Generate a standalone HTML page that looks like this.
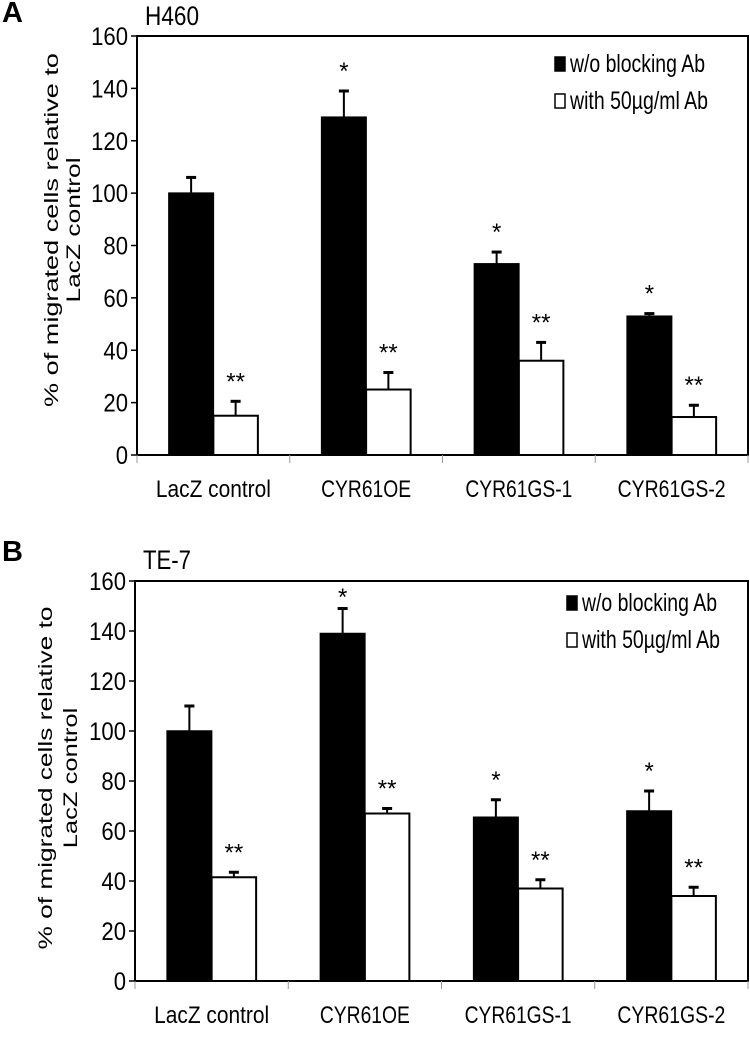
<!DOCTYPE html>
<html><head><meta charset="utf-8"><style>
html,body{margin:0;padding:0;background:#fff;}
svg{display:block;font-family:"Liberation Sans",Arial,sans-serif;}
</style></head><body>
<svg id="chart" width="750" height="1050" viewBox="0 0 750 1050"></svg>
<script>
const categories = ["LacZ control","CYR61OE","CYR61GS-1","CYR61GS-2"];
const categoryWidths = [115,90,107,108];
const yTicks = [0,20,40,60,80,100,120,140,160];
const seriesNames = ["w/o blocking Ab","with 50µg/ml Ab"];
const aBlack = [100,129,73,53];
const aBlackErr = [6,10,4.5,1];
const aWhite = [15,25,36,14.5];
const aWhiteErr = [5.5,6.5,7,4.5];
const aBlackStars = ["","*","*","*"];
const aWhiteStars = ["**","**","**","**"];
const bBlack = [100,139,65.5,68];
const bBlackErr = [10,10,7,8];
const bWhite = [41.5,67,37,34];
const bWhiteErr = [2,2,3.5,3.5];
const bBlackStars = ["","*","*","*"];
const bWhiteStars = ["**","**","**","**"];

const NS="http://www.w3.org/2000/svg";
const svg=document.getElementById('chart');
function mk(tag,attrs,parent){const e=document.createElementNS(NS,tag);for(const k in attrs)e.setAttribute(k,attrs[k]);(parent||svg).appendChild(e);return e;}
function txt(s,attrs,parent){const e=mk('text',attrs,parent);e.textContent=s;return e;}

function panel(cfg){
  const g=mk('g',{});
  
  
  const {x0,x1,yTop,yBot}=cfg;
  const ymax=160;
  const Y=v=>yBot-(v/ymax)*(yBot-yTop);
  const cw=(x1-x0)/categories.length;
  const X=i=>x0+cw*(i+0.5);
  const bw=44.5;
  const L=txt(cfg.letter,{x:2,y:cfg.letterY,'font-size':29,'font-weight':'bold'},g);
  
  
  const T=txt(cfg.title,{x:x0+8,y:cfg.titleY,'font-size':27,textLength:cfg.titleLen,lengthAdjust:'spacingAndGlyphs'},g);
  
  
  const fr=mk('rect',{x:x0,y:yTop,width:x1-x0,height:yBot-yTop,fill:'none',stroke:'#000','stroke-width':2},g);
  
  
  yTicks.forEach(v=>{
    const tl=mk('line',{x1:x0-6,x2:x0,y1:Y(v),y2:Y(v),stroke:'#000','stroke-width':1.5},g);
    
    
    const s=String(v);
    const t=txt(s,{x:x0-9,y:Y(v)+9,'font-size':25,'text-anchor':'end',textLength:s.length*12.3,lengthAdjust:'spacingAndGlyphs'},g);
    
    
  });
  for(let i=0;i<=categories.length;i++){
    const cx=x0+cw*i;
    const l=mk('line',{x1:cx,x2:cx,y1:yBot,y2:yBot+8,stroke:'#999','stroke-width':1},g);
    
    
  }
  const yt=mk('text',{transform:`translate(${cfg.ytX},${cfg.ytY}) rotate(-90)`,'font-size':19,'text-anchor':'middle'},g);
  
  
  const t1=mk('tspan',{x:0,y:0,textLength:cfg.ytLen,lengthAdjust:'spacingAndGlyphs'},yt);t1.textContent='% of migrated cells relative to';
  const t2=mk('tspan',{x:0,y:cfg.ytDy,textLength:cfg.ytLen*0.41,lengthAdjust:'spacingAndGlyphs'},yt);t2.textContent='LacZ control';
  function err(cx,top,e){
    const yy=Y(top+e);
    mk('line',{x1:cx,x2:cx,y1:Y(top),y2:yy,stroke:'#000','stroke-width':2},g);
    mk('line',{x1:cx-5,x2:cx+5,y1:yy,y2:yy,stroke:'#000','stroke-width':3},g);
    return yy;
  }
  categories.forEach((c,i)=>{
    const cx=X(i);
    const b=mk('rect',{x:cx-bw,y:Y(cfg.black[i]),width:bw,height:yBot-Y(cfg.black[i]),fill:'#000',stroke:'#000','stroke-width':1.5},g);
    
    
    const w=mk('rect',{x:cx,y:Y(cfg.white[i]),width:bw,height:yBot-Y(cfg.white[i]),fill:'#fff',stroke:'#000','stroke-width':2},g);
    
    
    const ey1=err(cx-bw/2,cfg.black[i],cfg.blackErr[i]);
    const ey2=err(cx+bw/2,cfg.white[i],cfg.whiteErr[i]);
    if(cfg.blackStars[i]){const s=txt(cfg.blackStars[i],{x:cx-bw/2,y:Math.max(ey1-12,yTop+24),'font-size':24,'text-anchor':'middle'},g);
      }
    if(cfg.whiteStars[i]){const s=txt(cfg.whiteStars[i],{x:cx+bw/2,y:ey2-12,'font-size':24,'text-anchor':'middle'},g);
      }
    const lab=txt(c,{x:cx,y:yBot+42,'font-size':24,'text-anchor':'middle',textLength:categoryWidths[i],lengthAdjust:'spacingAndGlyphs'},g);
    
    
  });
  const lg=mk('g',{},g);
  
  
  const lx=cfg.legX, ly=cfg.legY;
  seriesNames.forEach((n,k)=>{
    const yy=ly+k*37;
    const sq=mk('rect',{x:lx,y:yy-15,width:10,height:14,fill:k?'#fff':'#000',stroke:'#000','stroke-width':1.5},lg);
    
    
    const t=txt(n,{x:lx+15,y:yy,'font-size':25,textLength:k?138:135,lengthAdjust:'spacingAndGlyphs'},lg);
    
    
  });
}
panel({id:'a',letter:'A',letterY:22,title:'H460',titleY:25,titleLen:54,x0:137,x1:748,yTop:36,yBot:455,
  black:aBlack,blackErr:aBlackErr,white:aWhite,whiteErr:aWhiteErr,blackStars:aBlackStars,whiteStars:aWhiteStars,
  ytX:58,ytY:230,ytDy:22,ytLen:354,legX:555,legY:72});
panel({id:'b',letter:'B',letterY:561,title:'TE-7',titleY:569,titleLen:48,x0:135,x1:748,yTop:581,yBot:981,
  black:bBlack,blackErr:bBlackErr,white:bWhite,whiteErr:bWhiteErr,blackStars:bBlackStars,whiteStars:bWhiteStars,
  ytX:52,ytY:778,ytDy:25,ytLen:343,legX:567,legY:611});
</script>
</body></html>
